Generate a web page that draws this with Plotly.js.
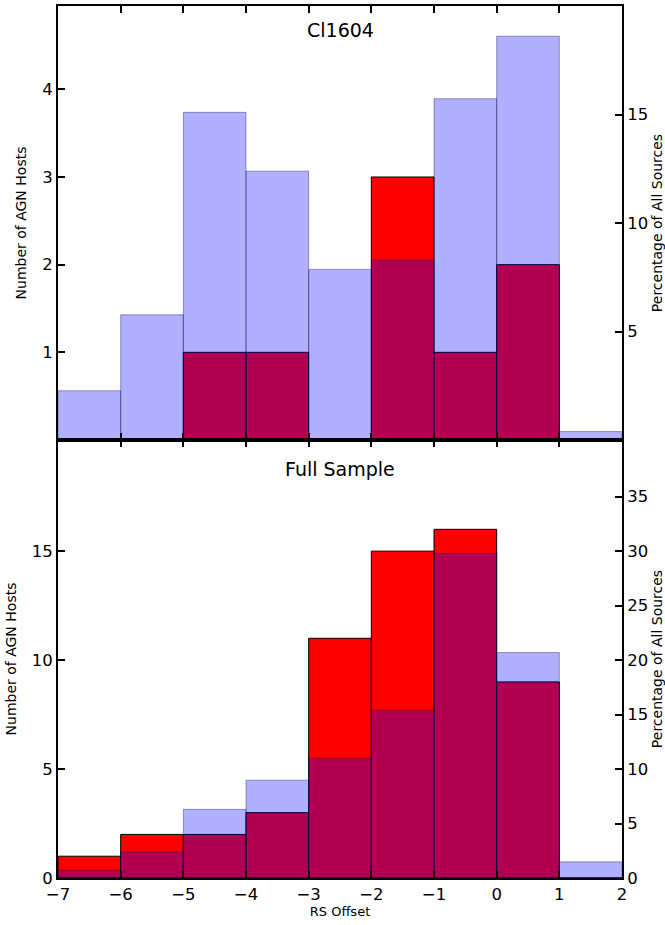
<!DOCTYPE html>
<html>
<head>
<meta charset="utf-8">
<script src="https://cdn.plot.ly/plotly-3.0.1.min.js"></script>
<style>html,body{margin:0;padding:0;background:#fff;}#chart{width:665px;height:925px;}</style>
</head>
<body>
<div id="chart"></div>
<script>
// Bin edges (RS offset)
const binEdges = [-7, -6, -5, -4, -3, -2, -1, 0, 1, 2];
// Cl1604 panel
const ci1604AgnCounts = [0, 0, 1, 1, 0, 3, 1, 2, 0];
const ci1604PctAll = [2.27, 5.77, 15.1, 12.39, 7.86, 8.29, 15.73, 18.61, 0.39];
// Full sample panel
const fullAgnCounts = [1, 2, 2, 3, 11, 15, 16, 9, 0];
const fullPctAll = [0.71, 2.41, 6.3, 8.98, 11.0, 15.4, 29.8, 20.7, 1.48];
// Tick labels
const xTicks = [-7, -6, -5, -4, -3, -2, -1, 0, 1, 2];
const topLeftTicks = [1, 2, 3, 4];
const topRightTicks = [5, 10, 15];
const botLeftTicks = [0, 5, 10, 15];
const botRightTicks = [0, 5, 10, 15, 20, 25, 30, 35];

const centers = binEdges.slice(0, -1).map((e, i) => (e + binEdges[i + 1]) / 2);
const widths = binEdges.slice(0, -1).map((e, i) => binEdges[i + 1] - e);

const redBar = {color: '#ff0000', line: {color: '#000000', width: 1}};
const blueBar = {color: 'rgba(0,0,255,0.31)', line: {color: 'rgba(0,0,60,0.35)', width: 1}};

const traces = [
  {type: 'bar', x: centers, y: ci1604AgnCounts, width: widths, marker: redBar, xaxis: 'x', yaxis: 'y', hoverinfo: 'skip'},
  {type: 'bar', x: centers, y: ci1604PctAll, width: widths, marker: blueBar, xaxis: 'x', yaxis: 'y2', hoverinfo: 'skip'},
  {type: 'bar', x: centers, y: fullAgnCounts, width: widths, marker: redBar, xaxis: 'x2', yaxis: 'y3', hoverinfo: 'skip'},
  {type: 'bar', x: centers, y: fullPctAll, width: widths, marker: blueBar, xaxis: 'x2', yaxis: 'y4', hoverinfo: 'skip'}
];

const F = 'DejaVu Sans, Arial, sans-serif';
const tickFont = {family: F, size: 16.5, color: '#000'};
const titleFont = {family: F, size: 14, color: '#000'};
const split = 438 / 872;

const axBase = {
  showgrid: false, zeroline: false, showline: true, linecolor: '#000', linewidth: 2,
  ticks: 'inside', ticklen: 7, tickwidth: 2, tickcolor: '#000', tickfont: tickFont
};

const layout = {
  width: 665, height: 925,
  margin: {l: 58, r: 43, t: 6, b: 47},
  paper_bgcolor: '#fff', plot_bgcolor: '#fff',
  showlegend: false, barmode: 'overlay', bargap: 0,
  xaxis: Object.assign({}, axBase, {range: [-7, 2], domain: [0, 1], anchor: 'y', mirror: 'ticks',
    tickvals: xTicks, showticklabels: false}),
  xaxis2: Object.assign({}, axBase, {range: [-7, 2], domain: [0, 1], anchor: 'y3', mirror: 'ticks',
    tickvals: xTicks, ticktext: xTicks.map(v => v < 0 ? '\u2212' + Math.abs(v) : String(v)),
    title: {text: 'RS Offset', font: {family: F, size: 13, color: '#000'}, standoff: 4}}),
  yaxis: Object.assign({}, axBase, {range: [0, 4.95], domain: [split, 1], anchor: 'x',
    tickvals: topLeftTicks, title: {text: 'Number of AGN Hosts', font: titleFont, standoff: 12}}),
  yaxis2: Object.assign({}, axBase, {range: [0, 20.0], overlaying: 'y', side: 'right', anchor: 'x',
    tickvals: topRightTicks, title: {text: 'Percentage of All Sources', font: titleFont, standoff: 8}}),
  yaxis3: Object.assign({}, axBase, {range: [0, 20.1], domain: [0, split], anchor: 'x2',
    tickvals: botLeftTicks, title: {text: 'Number of AGN Hosts', font: titleFont, standoff: 12}}),
  yaxis4: Object.assign({}, axBase, {range: [0, 40.2], overlaying: 'y3', side: 'right', anchor: 'x2',
    tickvals: botRightTicks, title: {text: 'Percentage of All Sources', font: titleFont, standoff: 8}}),
  annotations: [
    {text: 'Cl1604', xref: 'paper', yref: 'paper', x: 0.5, y: 1 - 24 / 872, xanchor: 'center', yanchor: 'middle',
      showarrow: false, font: {family: F, size: 19, color: '#000'}},
    {text: 'Full Sample', xref: 'paper', yref: 'paper', x: 0.5, y: split - 29 / 872, xanchor: 'center', yanchor: 'middle',
      showarrow: false, font: {family: F, size: 19, color: '#000'}}
  ]
};

Plotly.newPlot('chart', traces, layout, {staticPlot: true, displayModeBar: false});
</script>
</body>
</html>
